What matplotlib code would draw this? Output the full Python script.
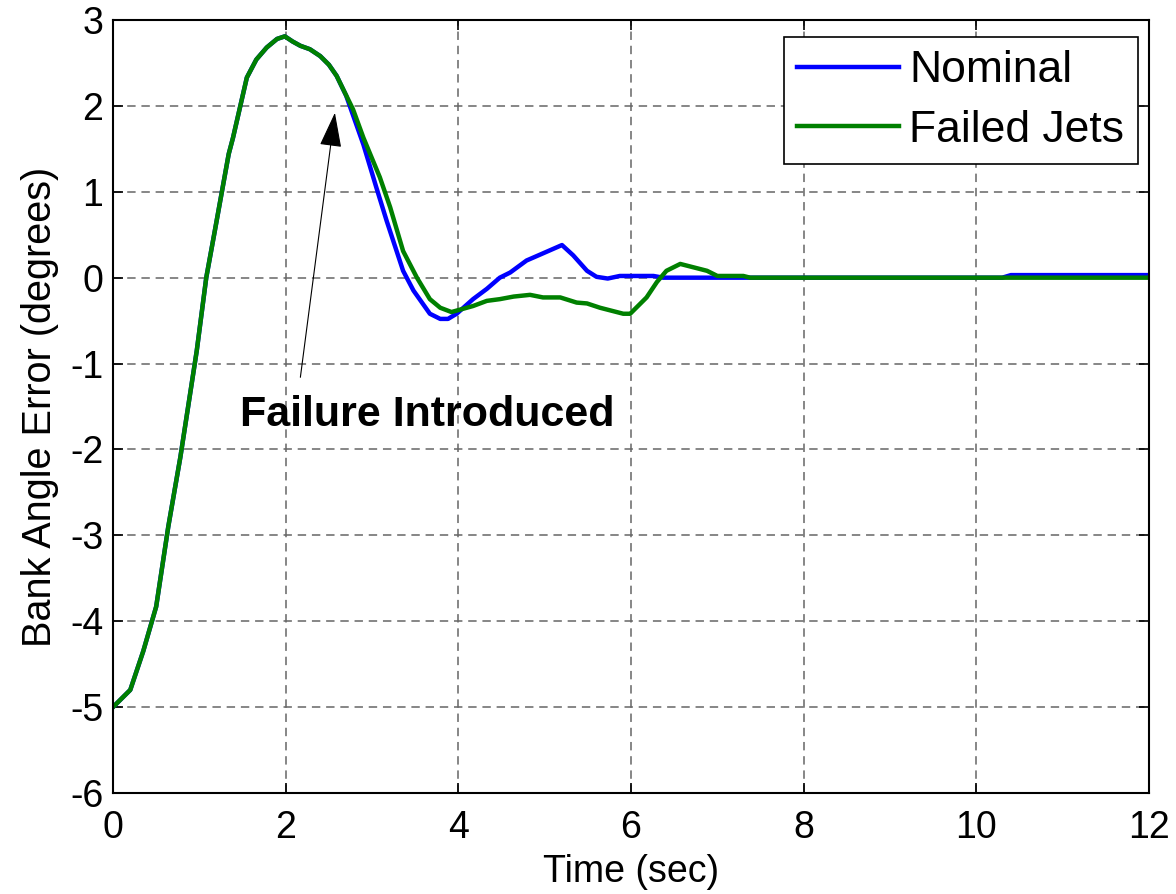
import matplotlib
matplotlib.use('Agg')
import matplotlib.pyplot as plt

plt.rcParams['font.family'] = ['Liberation Sans', 'DejaVu Sans']
plt.rcParams['axes.unicode_minus'] = False

# bank angle error traces (deg) vs time (s)
t_nominal = [0, 0.2, 0.35, 0.5, 0.64, 0.78, 0.97, 1.08, 1.18, 1.34, 1.39, 1.55, 1.66, 1.78,
             1.90, 1.99, 2.08, 2.17, 2.28, 2.40, 2.50, 2.59, 2.70, 2.90, 3.05, 3.17, 3.36,
             3.48, 3.67, 3.79, 3.88, 3.98, 4.17, 4.33, 4.48, 4.60, 4.79, 4.95, 5.20, 5.33,
             5.49, 5.60, 5.73, 5.87, 6.26, 6.37, 10.30, 10.40, 12.0]
err_nominal = [-5, -4.8, -4.35, -3.83, -2.9, -2.09, -0.85, 0.0, 0.55, 1.44, 1.63, 2.33, 2.54, 2.68,
               2.78, 2.81, 2.75, 2.70, 2.66, 2.58, 2.48, 2.35, 2.12, 1.55, 1.05, 0.66, 0.08,
               -0.15, -0.42, -0.48, -0.48, -0.42, -0.25, -0.13, 0.0, 0.06, 0.20, 0.27, 0.38, 0.26,
               0.08, 0.01, -0.01, 0.02, 0.02, 0.0, 0.0, 0.03, 0.03]

t_failed = [0, 0.2, 0.35, 0.5, 0.64, 0.78, 0.97, 1.08, 1.18, 1.34, 1.39, 1.55, 1.66, 1.78,
            1.90, 1.99, 2.08, 2.17, 2.28, 2.40, 2.50, 2.59, 2.78, 2.90, 3.09, 3.21, 3.36,
            3.52, 3.67, 3.79, 3.92, 4.17, 4.33, 4.48, 4.64, 4.83, 4.98, 5.18, 5.37, 5.49,
            5.64, 5.91, 5.99, 6.18, 6.30, 6.41, 6.57, 6.88, 7.00, 7.30, 7.38, 12.0]
err_failed = [-5, -4.8, -4.35, -3.83, -2.9, -2.09, -0.85, 0.0, 0.55, 1.44, 1.63, 2.33, 2.54, 2.68,
              2.78, 2.81, 2.75, 2.70, 2.66, 2.58, 2.48, 2.35, 1.96, 1.63, 1.17, 0.82, 0.31,
              0.0, -0.25, -0.35, -0.40, -0.33, -0.27, -0.25, -0.22, -0.20, -0.23, -0.23, -0.29, -0.30,
              -0.35, -0.42, -0.42, -0.23, -0.05, 0.08, 0.16, 0.08, 0.02, 0.02, 0.0, 0.0]

fig = plt.figure(figsize=(11.76, 8.94), dpi=100)
ax = fig.add_axes([0.0961, 0.113, 0.881, 0.8646])

ax.plot(t_nominal, err_nominal, color='#0000ff', lw=3.2, label='Nominal')
ax.plot(t_failed, err_failed, color='#008000', lw=3.2, label='Failed Jets')

ax.set_xlim(0, 12)
ax.set_ylim(-6, 3)
ax.set_xticks(range(0, 13, 2))
ax.set_yticks(range(-6, 4))

ax.grid(True, color='#666666', lw=1.1, linestyle=(0, (5.5, 3.8)))
ax.set_axisbelow(True)
for s in ax.spines.values():
    s.set_linewidth(1.5)
ax.tick_params(direction='in', top=True, right=True, length=7, width=1.2,
               labelsize=27)
ax.tick_params(axis='x', pad=12)
ax.tick_params(axis='y', pad=7)

ax.set_xlabel('Time (sec)', fontsize=27, labelpad=6)
ax.set_ylabel('Bank Angle Error (degrees)', fontsize=28.5, labelpad=8)

ax.annotate('', xy=(2.57, 1.92), xytext=(2.17, -1.16),
            arrowprops=dict(arrowstyle='-|>,head_length=1.1,head_width=0.35',
                            color='k', lw=0.8, mutation_scale=20,
                            shrinkA=0, shrinkB=0))
ax.text(1.47, -1.6, 'Failure Introduced', fontsize=31, fontweight='bold',
        va='center', ha='left')

leg = ax.legend(loc='upper right', bbox_to_anchor=(0.989, 0.978), borderaxespad=0,
                fontsize=32, handlelength=2.3, handletextpad=0.23, borderpad=0.3,
                labelspacing=0.42, fancybox=False, framealpha=1, edgecolor='k')
leg.get_frame().set_linewidth(1.2)

fig.savefig('out.png', dpi=100)
